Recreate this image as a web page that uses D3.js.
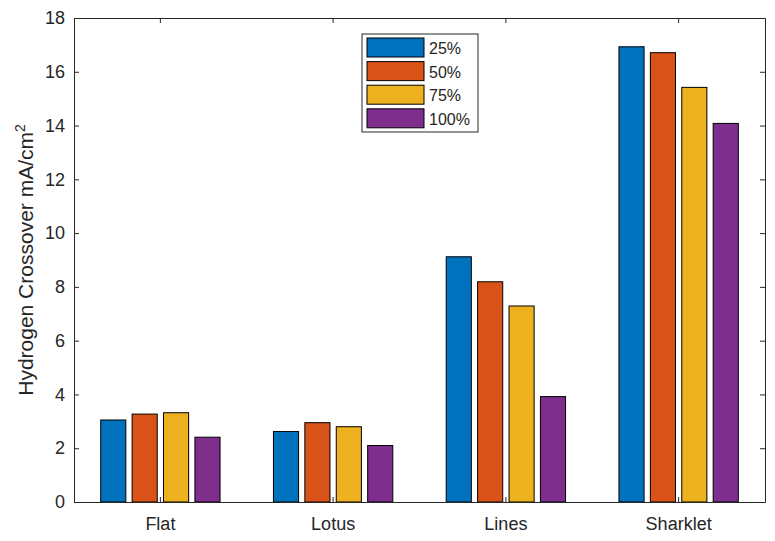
<!DOCTYPE html>
<html>
<head>
<meta charset="utf-8">
<script src="https://cdn.jsdelivr.net/npm/d3@7"></script>
<style>
  body { margin: 0; background: #fff; }
  text { font-family: "Liberation Sans", Arial, sans-serif; fill: #262626; }
</style>
</head>
<body>
<div id="chart"></div>
<script>
// data
var categories = ["Flat", "Lotus", "Lines", "Sharklet"];
var seriesNames = ["25%", "50%", "75%", "100%"];
var s25 = [3.05, 2.62, 9.12, 16.93];
var s50 = [3.27, 2.95, 8.19, 16.71];
var s75 = [3.32, 2.80, 7.29, 15.42];
var s100 = [2.41, 2.10, 3.92, 14.08];
var yTicks = [0, 2, 4, 6, 8, 10, 12, 14, 16, 18];

var seriesValues = [s25, s50, s75, s100];
var colors = ["#0072BD", "#D95319", "#EDB120", "#7E2F8E"];

var width = 775, height = 541;
var margin = {left: 74, right: 10, top: 18, bottom: 39};

var svg = d3.select("#chart").append("svg")
  .attr("width", width)
  .attr("height", height);

var x = d3.scaleBand()
  .domain(categories)
  .range([margin.left, width - margin.right])
  .padding(0);

// matlab grouped bars: group uses ~0.727 of slot, each bar 0.8 of its sub-slot
var groupWidth = x.bandwidth() * 4 / 5.5;
var x1 = d3.scaleBand()
  .domain(seriesNames)
  .range([0, groupWidth])
  .paddingInner(0.2)
  .paddingOuter(0.1);

var y = d3.scaleLinear()
  .domain([0, 18])
  .range([height - margin.bottom, margin.top]);

// bars
var rows = [];
seriesNames.forEach(function(s, i) {
  categories.forEach(function(c, j) {
    rows.push({series: s, cat: c, value: seriesValues[i][j], color: colors[i]});
  });
});

svg.selectAll(".bar").data(rows).enter()
  .append("rect").attr("class", "bar")
  .attr("x", function(d) {
    return x(d.cat) + x.bandwidth() / 2 - groupWidth / 2 + x1(d.series);
  })
  .attr("y", function(d) { return y(d.value); })
  .attr("width", x1.bandwidth())
  .attr("height", function(d) { return y(0) - y(d.value); })
  .attr("fill", function(d) { return d.color; })
  .attr("stroke", "#000")
  .attr("stroke-width", 1);

// axes
var xAxis = d3.axisBottom(x).tickSizeInner(-5).tickSizeOuter(0).tickPadding(15);
var gx = svg.append("g")
  .attr("transform", "translate(0," + y(0) + ")")
  .call(xAxis);
gx.selectAll("text").style("font-size", "18px");

var yAxis = d3.axisLeft(y).tickValues(yTicks).tickSizeInner(-5).tickSizeOuter(0).tickPadding(9);
var gy = svg.append("g")
  .attr("transform", "translate(" + margin.left + ",0)")
  .call(yAxis);
gy.selectAll("text").style("font-size", "18px");

// top and right mirror ticks (box on)
var gTop = svg.append("g")
  .attr("transform", "translate(0," + margin.top + ")")
  .call(d3.axisTop(x).tickSizeInner(-5).tickSizeOuter(0).tickFormat(""));
var gRight = svg.append("g")
  .attr("transform", "translate(" + (width - margin.right) + ",0)")
  .call(d3.axisRight(y).tickValues(yTicks).tickSizeInner(-5).tickSizeOuter(0).tickFormat(""));

[gx, gy, gTop, gRight].forEach(function(g) {
  g.selectAll("path, line").attr("stroke", "#262626");
  g.select(".domain").attr("stroke-width", 1);
});

// y label
var yl = svg.append("text")
  .attr("transform", "translate(33," + ((margin.top + y(0)) / 2) + ") rotate(-90)")
  .attr("text-anchor", "middle")
  .style("font-size", "21px");
yl.append("tspan").text("Hydrogen Crossover mA/cm");
yl.append("tspan").attr("baseline-shift", "super").style("font-size", "14px").text("2");

// legend
var lg = svg.append("g").attr("transform", "translate(362,34)");
lg.append("rect")
  .attr("width", 116).attr("height", 98)
  .attr("fill", "#fff").attr("stroke", "#262626").attr("stroke-width", 1);
var items = lg.selectAll(".item").data(seriesNames).enter()
  .append("g").attr("class", "item")
  .attr("transform", function(d, i) { return "translate(5," + (4 + i * 23.6) + ")"; });
items.append("rect")
  .attr("width", 57).attr("height", 19)
  .attr("fill", function(d, i) { return colors[i]; })
  .attr("stroke", "#000");
items.append("text")
  .attr("x", 62).attr("y", 16)
  .style("font-size", "16px")
  .text(function(d) { return d; });
</script>
</body>
</html>
